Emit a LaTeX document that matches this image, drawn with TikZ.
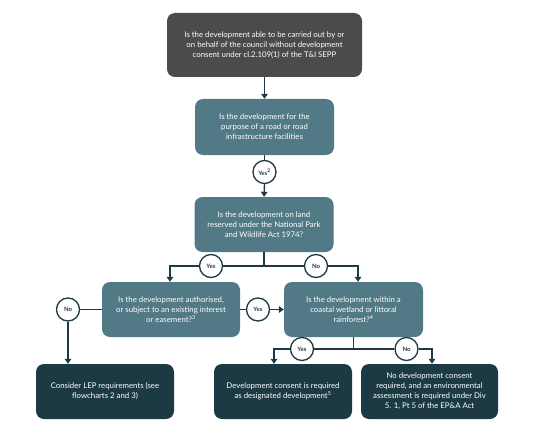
\documentclass[tikz,border=0pt]{standalone}
\usepackage{fontspec}
\setmainfont{Lato}
\usetikzlibrary{arrows.meta}
\definecolor{grayb}{HTML}{4B4B4B}
\definecolor{tealb}{HTML}{527A86}
\definecolor{darkb}{HTML}{1C3A44}
\begin{document}
\begin{tikzpicture}[x=1pt,y=-1pt,
  box/.style={rounded corners=8pt,text=white,align=center,font=\fontsize{7.8}{10}\selectfont,inner sep=2pt},
  graybox/.style={box,fill=grayb,minimum width=195pt,minimum height=64pt},
  tealbox/.style={box,fill=tealb,minimum width=139pt,minimum height=56pt},
  darkbox/.style={box,fill=darkb,minimum width=138pt,minimum height=55pt},
  ans/.style={circle,draw=darkb,line width=1.3pt,fill=white,minimum size=23pt,inner sep=0pt,text=darkb,font=\fontsize{6}{7}\selectfont\bfseries},
  conn/.style={draw=darkb,line width=1.4pt},
  arr/.style={conn,-{Triangle[length=5pt,width=6.5pt]}}]
\useasboundingbox (0,0) rectangle (535,433);
\fill[white] (0,0) rectangle (535,433);
\node[graybox] (b1) at (264.5,45) {Is the development able to be carried out by or\\on behalf of the council without development\\consent under cl.2.109(1) of the T\&I SEPP};
\node[tealbox] (b2) at (264.5,127) {Is the development for the\\purpose of a road or road\\infrastructure facilities};
\node[tealbox,minimum height=55pt] (b3) at (264,224.5) {Is the development on land\\reserved under the National Park\\and Wildlife Act 1974?};
\node[tealbox,minimum width=138pt,minimum height=55pt] (b4) at (171,309.5) {Is the development authorised,\\or subject to an existing interest\\or easement?\textsuperscript{3}};
\node[tealbox,minimum height=55pt] (b5) at (353.5,309.5) {Is the development within a\\coastal wetland or littoral\\rainforest?\textsuperscript{4}};
\node[darkbox] (b6) at (105,391.5) {Consider LEP requirements (see\\flowcharts 2 and 3)};
\node[darkbox] (b7) at (283,391.5) {Development consent is required\\as designated development\textsuperscript{5}};
\node[darkbox,minimum width=137pt] (b8) at (429.5,391.5) {No development consent\\required, and an environmental\\assessment is required under Div\\5. 1, Pt 5 of the EP\&A Act};
% connectors
\draw[arr] (b1.south) -- (b2.north);
\node[ans] (y1) at (264.5,172) {Yes\textsuperscript{2}};
\draw[conn] (b2.south) -- (y1.north);
\draw[arr] (y1.south) -- (b3.north);
\coordinate (j3) at (264,266);
\coordinate (l3) at (170,266);
\coordinate (r3) at (358,266);
\node[ans] (y3) at (211,266) {Yes};
\node[ans] (n3) at (316,266) {No};
\draw[conn] (b3.south) -- (j3);
\draw[conn] (j3) -- (y3.east);
\draw[conn] (j3) -- (n3.west);
\draw[arr] (y3.west) -- (l3) -- (l3 |- b4.north);
\draw[arr] (n3.east) -- (r3) -- (r3 |- b5.north);
\node[ans] (y4) at (258,309.5) {Yes};
\node[ans] (n4) at (68,309.5) {No};
\draw[conn] (b4.east) -- (y4.west);
\draw[arr] (y4.east) -- (b5.west);
\draw[conn] (b4.west) -- (n4.east);
\draw[arr] (n4.south) -- (n4.south |- b6.north);
\coordinate (j5) at (353.5,349);
\coordinate (l5) at (274,349);
\coordinate (r5) at (432,349);
\node[ans] (y5) at (302,349) {Yes};
\node[ans] (n5) at (406.5,349) {No};
\draw[conn] (b5.south) -- (j5);
\draw[conn] (j5) -- (y5.east);
\draw[conn] (j5) -- (n5.west);
\draw[arr] (y5.west) -- (l5) -- (l5 |- b7.north);
\draw[arr] (n5.east) -- (r5) -- (r5 |- b8.north);
\end{tikzpicture}
\end{document}
